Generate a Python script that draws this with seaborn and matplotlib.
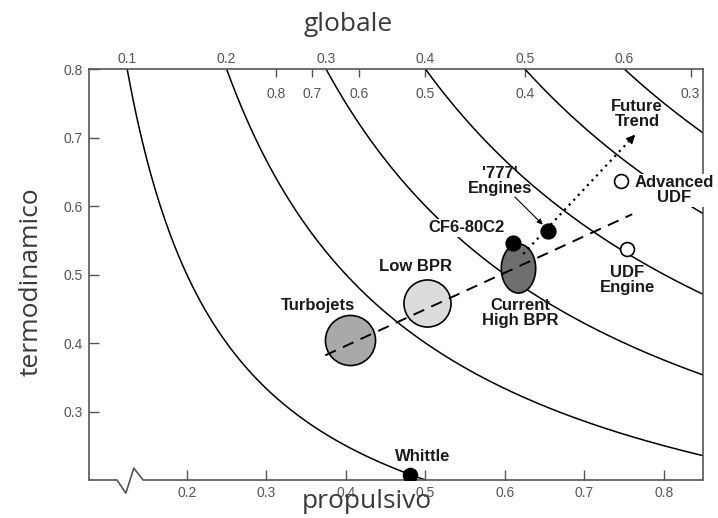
import numpy as np
import seaborn as sns
import matplotlib.pyplot as plt
from matplotlib.path import Path

# overall efficiency iso-lines (overall = propulsive * thermodynamic)
overall_levels = [0.1, 0.2, 0.3, 0.4, 0.5, 0.6]
overall_labels = ["0.1", "0.2", "0.3", "0.4", "0.5", "0.6"]
# second scale along the top edge (overall = 0.2 / value)
sfc_levels = [0.8, 0.7, 0.6, 0.5, 0.4, 0.3]
sfc_labels = ["0.8", "0.7", "0.6", "0.5", "0.4", "0.3"]

x_ticks = [0.2, 0.3, 0.4, 0.5, 0.6, 0.7, 0.8]
y_ticks = [0.3, 0.4, 0.5, 0.6, 0.7, 0.8]

# engines (propulsive, thermodynamic)
engines = ["Turbojets", "Low BPR", "Current High BPR", "CF6-80C2",
           "'777' Engines", "Advanced UDF", "UDF Engine", "Whittle"]
prop_eff = [0.405, 0.502, 0.617, 0.610, 0.654, 0.746, 0.754, 0.480]
thermo_eff = [0.404, 0.458, 0.509, 0.546, 0.5635, 0.637, 0.537, 0.207]

# trend lines
trend_x = [0.374, 0.760]
trend_y = [0.382, 0.588]
future_x = [0.623, 0.766]
future_y = [0.530, 0.707]
engines777_arrow_x = [0.610, 0.650]
engines777_arrow_y = [0.616, 0.570]

# text labels
label_text = ["Turbojets", "Low BPR", "Current\nHigh BPR", "CF6-80C2", "'777'\nEngines",
              "Advanced\nUDF", "UDF\nEngine", "Whittle", "Future\nTrend"]
label_x = [0.365, 0.487, 0.619, 0.552, 0.594, 0.813, 0.754, 0.496, 0.766]
label_y = [0.455, 0.511, 0.444, 0.568, 0.636, 0.623, 0.492, 0.235, 0.734]
label_box = [False, False, False, True, False, True, False, False, False]

sns.set_style("ticks")
plt.rcParams['font.family'] = ['Liberation Sans', 'DejaVu Sans']

fig = plt.figure(figsize=(7.18, 5.18), dpi=100)
ax = fig.add_axes([89 / 718, 1 - 480 / 518, 614 / 718, 411 / 518])
ax.set_xlim(0.077, 0.849)
ax.set_ylim(0.2, 0.8)

# iso-efficiency curves
for c in overall_levels:
    xs = np.linspace(c / 0.8, min(c / 0.2, 0.849), 200)
    sns.lineplot(x=xs, y=c / xs, sort=False, color='black', lw=1.1, ax=ax, zorder=1)

# engine markers (style per engine)
theta = np.linspace(0, 2 * np.pi, 80)
ellipse = Path(np.column_stack([0.7 * np.cos(theta), np.sin(theta)]), closed=True)
marker_style = {
    "Turbojets": dict(s=1300, color='#a9a9a9', marker='o'),
    "Low BPR": dict(s=1150, color='#dcdcdc', marker='o'),
    "Current High BPR": dict(s=1250, color='#6f6f6f', marker=ellipse),
    "CF6-80C2": dict(s=110, color='black', marker='o'),
    "'777' Engines": dict(s=110, color='black', marker='o'),
    "Advanced UDF": dict(s=100, color='white', marker='o'),
    "UDF Engine": dict(s=100, color='white', marker='o'),
    "Whittle": dict(s=100, color='black', marker='o'),
}
for name, px, ty in zip(engines, prop_eff, thermo_eff):
    st = marker_style[name]
    sns.scatterplot(x=[px], y=[ty], s=st['s'], color=st['color'], marker=st['marker'],
                    edgecolor='black', linewidth=1.2, ax=ax, zorder=3)

# dashed trend and dotted future trend
ax.plot(trend_x, trend_y, color='black', lw=1.4, ls=(0, (6, 4)), zorder=4)
ax.plot(future_x, future_y, color='black', lw=1.6, ls=(0, (1, 2)), zorder=4)
ax.annotate('', xy=(future_x[1], future_y[1]),
            xytext=(future_x[1] - 0.012, future_y[1] - 0.015),
            arrowprops=dict(arrowstyle='-|>', color='black', lw=1.2, mutation_scale=12), zorder=4)
ax.annotate('', xy=(engines777_arrow_x[1], engines777_arrow_y[1]),
            xytext=(engines777_arrow_x[0], engines777_arrow_y[0]),
            arrowprops=dict(arrowstyle='-|>', color='black', lw=0.8, mutation_scale=8), zorder=4)

for t, lx, ly, box in zip(label_text, label_x, label_y, label_box):
    kw = dict(bbox=dict(facecolor='white', edgecolor='none', pad=1)) if box else {}
    ax.text(lx, ly, t, ha='center', va='center', fontsize=12, fontweight='bold',
            color='#1a1a1a', linespacing=1.0, zorder=5, **kw)

# axes styling
for side in ['left', 'top', 'right']:
    ax.spines[side].set_color('#555555')
    ax.spines[side].set_linewidth(1.2)
ax.spines['bottom'].set_visible(False)
brk_x = [0, 0.0456, 0.060, 0.073, 0.088, 1]
brk_y = [0, 0, -0.032, 0.029, 0, 0]
ax.plot(brk_x, brk_y, color='#555555', lw=1.2, transform=ax.transAxes, clip_on=False)

ax.set_xticks(x_ticks, labels=[f"{v:.1f}" for v in x_ticks])
ax.set_yticks(y_ticks, labels=[f"{v:.1f}" for v in y_ticks])
ax.tick_params(direction='in', length=7, width=1.0, color='#555555',
               labelsize=10, labelcolor='#555555', pad=4.5)

top = ax.secondary_xaxis('top')
top.set_xticks([c / 0.8 for c in overall_levels], labels=overall_labels)
top.tick_params(length=0, pad=2, labelsize=10, labelcolor='#555555')
top.spines['top'].set_visible(False)

top2 = ax.secondary_xaxis('top')
top2.set_xticks([0.2 / s / 0.8 for s in sfc_levels], labels=sfc_labels)
top2.tick_params(direction='in', length=6, width=1.0, color='#555555', pad=-23,
                 labelsize=10, labelcolor='#555555')
top2.spines['top'].set_visible(False)

lab = dict(fontsize=19, color='#3a3a3a', family=['Open Sans', 'DejaVu Sans'])
ax.set_title("globale", x=0.422, y=1.109, pad=0, va='center', **lab)
ax.set_xlabel("propulsivo", va='center', **lab)
ax.xaxis.set_label_coords(0.453, -0.052)
ax.set_ylabel("termodinamico", va='center', **lab)
ax.yaxis.set_label_coords(-0.094, 0.482)

fig.savefig("out.png", dpi=100)
